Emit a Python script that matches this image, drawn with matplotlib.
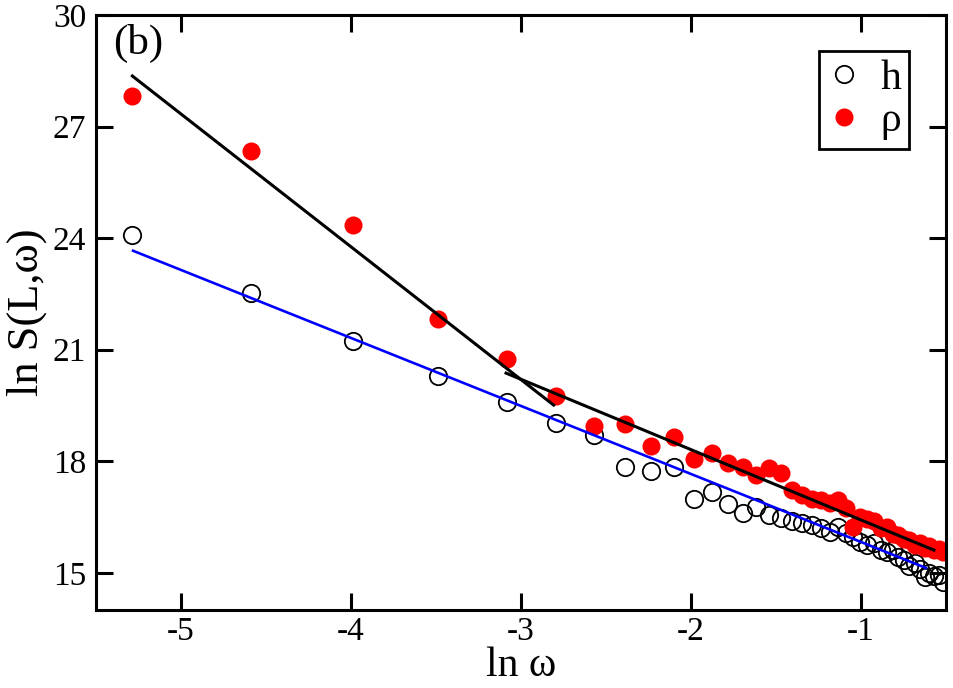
import matplotlib
matplotlib.use("Agg")
import matplotlib.pyplot as plt

plt.rcParams['font.family'] = ['Liberation Serif', 'DejaVu Serif']

# ln(omega) values shared by both series
ln_w = [-5.286, -4.586, -3.988, -3.488, -3.082, -2.795, -2.572, -2.389, -2.235,
        -2.102, -1.984, -1.878, -1.783, -1.696, -1.616, -1.542, -1.473, -1.408,
        -1.348, -1.291, -1.237, -1.185, -1.136, -1.090, -1.046, -1.003, -0.962,
        -0.923, -0.885, -0.849, -0.814, -0.780, -0.747, -0.715, -0.685, -0.655,
        -0.626, -0.597, -0.570, -0.543, -0.518]

ln_S_h = [24.08, 22.52, 21.22, 20.29, 19.59, 19.04, 18.71, 17.85, 17.74,
          17.84, 16.98, 17.18, 16.84, 16.60, 16.78, 16.56, 16.48, 16.38,
          16.33, 16.29, 16.20, 16.11, 16.24, 16.08, 15.95, 15.84, 15.75,
          15.80, 15.62, 15.55, 15.60, 15.42, 15.35, 15.18, 15.25, 15.10,
          14.88, 15.00, 14.92, 14.95, 14.76]

ln_S_rho = [27.82, 26.35, 24.35, 21.83, 20.75, 19.76, 18.95, 18.99, 18.41,
            18.64, 18.05, 18.23, 17.95, 17.84, 17.63, 17.81, 17.68, 17.23,
            17.10, 16.98, 16.95, 16.87, 16.95, 16.75, 16.24, 16.50, 16.45,
            16.38, 16.20, 16.22, 16.05, 16.02, 15.90, 15.88, 15.75, 15.80,
            15.68, 15.72, 15.60, 15.65, 15.55]

# fitted lines (end points)
fit_rho_small_x = [-5.286, -2.808]
fit_rho_small_y = [28.36, 19.51]
fit_rho_large_x = [-3.088, -0.571]
fit_rho_large_y = [20.37, 15.61]
fit_h_x = [-5.282, -0.618]
fit_h_y = [23.66, 15.13]

x_ticks = [-5, -4, -3, -2, -1]
y_ticks = [15, 18, 21, 24, 27, 30]

fig = plt.figure(figsize=(9.54, 6.88), dpi=100)
ax = fig.add_axes([0.1006, 0.1134, 0.8910, 0.8648])

ax.plot(ln_w, ln_S_h, 'o', ms=12.5, mfc='none', mec='black', mew=1.3, label='h')
ax.plot(ln_w, ln_S_rho, 'o', ms=13, mfc='#ff0000', mec='#ff0000', mew=0, label='ρ')

ax.plot(fit_rho_small_x, fit_rho_small_y, color='black', lw=2.2)
ax.plot(fit_rho_large_x, fit_rho_large_y, color='black', lw=2.2)
ax.plot(fit_h_x, fit_h_y, color='#0000ff', lw=1.9)

ax.set_xlim(-5.5, -0.5)
ax.set_ylim(14, 30)
ax.set_xticks(x_ticks)
ax.set_yticks(y_ticks)
ax.set_xticklabels([str(t) for t in x_ticks])
ax.tick_params(direction='in', length=12, width=2.2, labelsize=24,
               top=True, right=True, pad=7)
ax.tick_params(axis='x', pad=5)
for s in ax.spines.values():
    s.set_linewidth(2.2)

ax.set_xlabel('ln ω', fontsize=30, labelpad=-1)
ax.set_ylabel('ln S(L,ω)', fontsize=32, labelpad=4)

ax.text(0.02, 0.985, '(b)', transform=ax.transAxes, fontsize=31,
        ha='left', va='top')

leg = ax.legend(loc='upper right', bbox_to_anchor=(0.957, 0.94),
                borderaxespad=0, fontsize=30, fancybox=False, frameon=True,
                handlelength=0.8, handletextpad=0.46, borderpad=0.2,
                labelspacing=0.1, framealpha=1)
leg.get_frame().set_edgecolor('black')
leg.get_frame().set_linewidth(2.0)

plt.savefig('out.png', dpi=100)
